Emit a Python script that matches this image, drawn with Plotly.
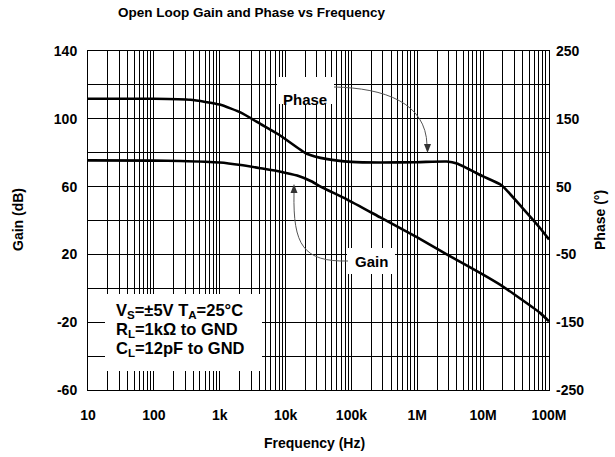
import plotly.graph_objects as go

# Open-loop gain (dB) vs frequency (Hz)
gain_freq = [10, 100, 255, 1e3, 2.1e3, 4.2e3, 8.4e3, 1.5e4, 2.5e4, 3.4e4, 8.5e4,
             2.75e5, 1e6, 2.8e6, 1e7, 2e7, 7.3e7, 1e8]
gain_db = [75.5, 75.3, 75.1, 74.2, 72.7, 70.8, 68.8, 66.5, 63.0, 60.0, 52.5,
           41.8, 30.0, 20.0, 8.0, 1.0, -14.5, -19.5]

# Open-loop phase (degrees) vs frequency (Hz)
phase_freq = [10, 100, 360, 1e3, 2.1e3, 4.2e3, 8.4e3, 2.1e4, 4.3e4, 1e5, 2.75e5,
              1e6, 2.8e6, 4e6, 1e7, 1.9e7, 4e7, 7.3e7, 1e8]
phase_deg = [179.5, 179.5, 178.0, 171.0, 159.0, 142.0, 125.0, 98.5, 90.5, 86.5, 85.5,
             86.0, 87.0, 84.0, 65.0, 52.0, 18.0, -11.0, -28.0]

# Axis ticks
decades = [10, 100, 1e3, 1e4, 1e5, 1e6, 1e7, 1e8]
decade_labels = ["10", "100", "1k", "10k", "100k", "1M", "10M", "100M"]
gain_labels = [140, 100, 60, 20, -20, -60]
phase_labels = [250, 150, 50, -50, -150, -250]

# Operating conditions
conditions = ["V<sub>S</sub>=±5V T<sub>A</sub>=25°C",
              "R<sub>L</sub>=1kΩ to GND",
              "C<sub>L</sub>=12pF to GND"]

FONT = "Liberation Sans, Arial, sans-serif"
W, H = 615, 457
L, R, T, B = 88, 66, 51, 67
PW, PH = W - L - R, H - T - B


def px(x):
    return (x - L) / PW


def py(y):
    return (H - B - y) / PH


fig = go.Figure()
fig.add_trace(go.Scatter(x=gain_freq, y=gain_db, mode="lines",
                         line=dict(color="black", width=2.6, shape="spline", smoothing=0.5),
                         showlegend=False, hoverinfo="skip"))
fig.add_trace(go.Scatter(x=phase_freq, y=phase_deg, mode="lines", yaxis="y2",
                         line=dict(color="black", width=2.6, shape="spline", smoothing=0.5),
                         showlegend=False, hoverinfo="skip"))

bold = dict(family=FONT, size=14, color="black", weight="bold")
grid = dict(showgrid=True, gridcolor="black", gridwidth=1)

fig.update_layout(
    width=W, height=H,
    margin=dict(l=L, r=R, t=T, b=B),
    paper_bgcolor="white", plot_bgcolor="white",
    font=bold,
    title=dict(text="<b>Open Loop Gain and Phase vs Frequency</b>",
               font=dict(family=FONT, size=13.5, color="black"),
               x=118 / W, xanchor="left", xref="container",
               y=1 - 12 / H, yanchor="middle", yref="container"),
    xaxis=dict(type="log", range=[1, 8], tickvals=decades, ticktext=decade_labels,
               **grid, minor=dict(dtick="D1", ticks="", **grid),
               showline=True, linecolor="black", linewidth=1, mirror=True,
               ticks="", ticklabelstandoff=12, zeroline=False, tickfont=bold),
    yaxis=dict(range=[-60, 140], tickvals=gain_labels, ticktext=[str(v) for v in gain_labels],
               **grid, minor=dict(tick0=-60, dtick=20, ticks="", **grid),
               showline=True, linecolor="black", linewidth=1, mirror=True,
               ticks="", ticklabelstandoff=7, zeroline=False, tickfont=bold),
    yaxis2=dict(range=[-250, 250], tickvals=phase_labels,
                ticktext=[str(v) for v in phase_labels],
                overlaying="y", side="right", showgrid=False, zeroline=False,
                showline=False, ticks="", ticklabelstandoff=6, tickfont=bold),
)

# white boxes that break the grid behind the labels
boxes = [(105, 294, 262, 371), (277, 77, 334, 104), (347, 248, 395, 274)]
for x0, y0, x1, y1 in boxes:
    fig.add_shape(type="rect", xref="paper", yref="paper",
                  x0=px(x0), x1=px(x1), y0=py(y1), y1=py(y0),
                  fillcolor="white", line=dict(width=0), layer="above")


# curved leader lines
def path(points):
    (x0, y0), rest = points[0], points[1:]
    return f"M {px(x0)},{py(y0)} C " + " ".join(f"{px(x)},{py(y)}" for x, y in rest)


fig.add_shape(type="path", xref="paper", yref="paper",
              path=path([(334, 87), (385, 88), (426, 103), (427, 145)]),
              line=dict(color="#555555", width=1), layer="above")
fig.add_shape(type="path", xref="paper", yref="paper",
              path=path([(348, 261), (303, 262), (293, 245), (294, 193)]),
              line=dict(color="#555555", width=1), layer="above")


# arrow heads
def tri(tip, up):
    x, y = tip
    d = 9 if up else -9
    return (f"M {px(x - 3.5)},{py(y + d)} L {px(x + 3.5)},{py(y + d)} "
            f"L {px(x)},{py(y)} Z")


fig.add_shape(type="path", xref="paper", yref="paper", path=tri((427.5, 153), False),
              fillcolor="#333333", line=dict(width=0), layer="above")
fig.add_shape(type="path", xref="paper", yref="paper", path=tri((294, 184), True),
              fillcolor="#333333", line=dict(width=0), layer="above")

for text, cx, cy in [("Phase", 305, 89), ("Gain", 371, 261)]:
    fig.add_annotation(text=f"<b>{text}</b>", x=px(cx), y=py(cy), xref="paper", yref="paper",
                       showarrow=False, font=dict(family=FONT, size=15, color="black"))

for line, cy in zip(conditions, [311, 330, 349]):
    fig.add_annotation(text=f"<b>{line}</b>", x=px(114), y=py(cy), xref="paper", yref="paper",
                       xanchor="left", yanchor="middle", align="left", showarrow=False,
                       font=dict(family=FONT, size=16.5, color="black"))

# axis titles
fig.add_annotation(text="<b>Gain (dB)</b>", x=px(18), y=py(220), xref="paper", yref="paper",
                   xanchor="center", yanchor="middle", textangle=-90, showarrow=False,
                   font=dict(family=FONT, size=14, color="black"))
fig.add_annotation(text="<b>Phase (°)</b>", x=px(600), y=py(220), xref="paper", yref="paper",
                   xanchor="center", yanchor="middle", textangle=-90, showarrow=False,
                   font=dict(family=FONT, size=14, color="black"))
fig.add_annotation(text="<b>Frequency (Hz)</b>", x=px(314), y=py(443), xref="paper", yref="paper",
                   xanchor="center", yanchor="middle", showarrow=False,
                   font=dict(family=FONT, size=14, color="black"))

fig.write_html("out.html")
